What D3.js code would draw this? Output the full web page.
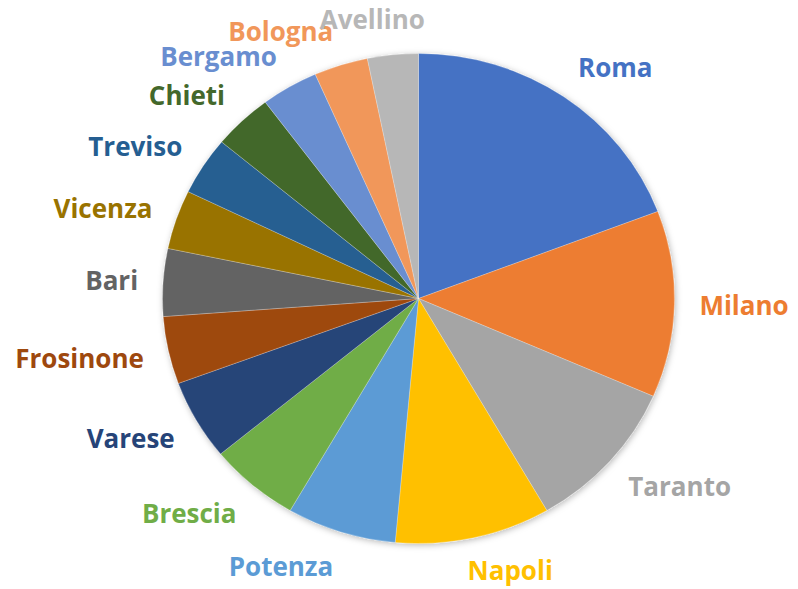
<!DOCTYPE html>
<html>
<head>
<meta charset="utf-8">
<script src="https://cdn.jsdelivr.net/npm/d3@7"></script>
<style>
  body { margin: 0; background: #fff; }
  svg { display: block; }
</style>
</head>
<body>
<svg id="chart" width="798" height="589"></svg>
<script>
var cities = ['Roma', 'Milano', 'Taranto', 'Napoli', 'Potenza', 'Brescia', 'Varese', 'Frosinone',
              'Bari', 'Vicenza', 'Treviso', 'Chieti', 'Bergamo', 'Bologna', 'Avellino'];
var values = [19.2, 12.3, 10.1, 9.8, 6.9, 5.7, 5.3, 4.45, 4.45, 3.9, 3.85, 3.75, 3.6, 3.4, 3.2];
var colors = ['#4472C4', '#ED7D31', '#A5A5A5', '#FFC000', '#5B9BD5', '#70AD47', '#264478', '#9E480E',
              '#636363', '#997300', '#255E91', '#43682B', '#698ED0', '#F1975A', '#B7B7B7'];

var dims = { width: 798, height: 589, cx: 418.5, cy: 298.5, rx: 256, ry: 245, gap: 25 }

var data = cities.map(function(c, i) { return { city: c, value: values[i], color: colors[i] }; });

var svg = d3.select("#chart")

var defs = svg.append("defs")
var shadow = defs.append("filter").attr("id", "shadow")
    .attr("x", "-10%").attr("y", "-10%").attr("width", "120%").attr("height", "120%")
shadow.append("feDropShadow")
    .attr("dx", 1).attr("dy", 1.5).attr("stdDeviation", 3)
    .attr("flood-color", "#000").attr("flood-opacity", 0.28)

var pie = d3.pie().sort(null).value(function(d) { return d.value; })
var arcs = pie(data)

var arc = d3.arc().innerRadius(0).outerRadius(dims.ry)

var g = svg.append("g")
    .attr("transform", `translate(${dims.cx},${dims.cy}) scale(${dims.rx / dims.ry},1)`)
    .attr("filter", "url(#shadow)")

g.selectAll(".slice")
    .data(arcs)
    .enter()
    .append("path")
    .attr("class", "slice")
    .attr("d", arc)
    .attr("fill", function(d) { return d.data.color; })
    .attr("stroke", "#ffffff")
    .attr("stroke-width", 0.4)
    .attr("stroke-opacity", 0.6)

// labels sit just outside the rim, aligned like Excel's "outside end"
var labelH = 22
svg.selectAll(".label")
    .data(arcs)
    .enter()
    .append("text")
    .attr("class", "label")
    .style("font-family", "'Open Sans', Lato, sans-serif")
    .style("font-weight", "bold")
    .style("font-size", "26px")
    .attr("fill", function(d) { return d.data.color; })
    .attr("dy", "0.35em")
    .text(function(d) { return d.data.city; })
    .each(function(d) {
        var mid = (d.startAngle + d.endAngle) / 2
        var sn = Math.sin(mid), cs = Math.cos(mid)
        var ax = dims.cx + sn * (dims.rx + dims.gap)
        var ay = dims.cy - cs * (dims.ry + dims.gap)
        var w = this.getComputedTextLength()
        var s = Math.max(-1, Math.min(1, sn * 3.4))
        var y = ay - cs * labelH / 2 + 1
        d3.select(this)
          .attr("x", ax - w * (1 - s) / 2)
          .attr("y", y)
        // keep the text box inside the picture
        var bb = this.getBBox()
        if (bb.y + bb.height > dims.height) d3.select(this).attr("y", y - (bb.y + bb.height - dims.height) - 1)
        if (bb.y < 0) d3.select(this).attr("y", y - bb.y + 1)
    })
</script>
</body>
</html>
